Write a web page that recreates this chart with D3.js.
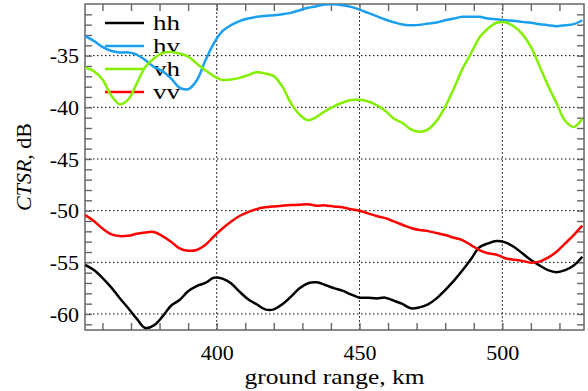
<!DOCTYPE html>
<html>
<head>
<meta charset="utf-8">
<script src="https://cdn.jsdelivr.net/npm/d3@7"></script>
<style>
  html, body { margin: 0; padding: 0; background: #fff; }
  svg { display: block; }
  text { font-family: "Liberation Serif", "Times New Roman", serif; fill: #000; }
</style>
</head>
<body>
<svg id="chart" width="588" height="391"></svg>
<script>
// ---- data ----
const rangeKm = [354,357,360,363,366,369,372,375,378,381,384,387,390,393,396,399,402,405,408,411,414,417,420,423,426,429,432,435,438,441,444,447,450,453,456,459,462,465,468,471,474,477,480,483,486,489,492,495,498,501,504,507,510,513,516,519,522,525,528];
const hh = [-55.25,-55.75,-56.5,-57.4,-58.45,-59.42,-60.45,-61.35,-61.1,-60.26,-59.2,-58.65,-57.8,-57.3,-57.0,-56.5,-56.58,-57.03,-57.84,-58.58,-59.06,-59.55,-59.55,-59.06,-58.32,-57.52,-57.03,-56.94,-57.19,-57.5,-57.74,-58.1,-58.42,-58.42,-58.49,-58.42,-58.71,-59.03,-59.45,-59.36,-59.06,-58.49,-57.68,-56.8,-55.8,-54.7,-53.55,-53.17,-52.94,-53.07,-53.49,-54.13,-54.78,-55.3,-55.75,-55.95,-55.75,-55.3,-54.46];
const hv = [-33.11,-33.57,-34.15,-34.53,-34.69,-34.69,-34.89,-35.43,-36.08,-36.5,-37.2,-38.1,-38.25,-37.4,-35.5,-33.8,-32.63,-32.05,-31.66,-31.41,-31.24,-31.15,-31.08,-30.99,-30.86,-30.6,-30.37,-30.21,-30.05,-30.03,-30.12,-30.28,-30.54,-30.86,-31.18,-31.5,-31.76,-31.99,-32.05,-32.02,-31.89,-31.79,-31.57,-31.41,-31.24,-31.24,-31.24,-31.41,-31.47,-31.57,-31.63,-31.73,-31.82,-31.95,-32.05,-32.15,-32.05,-31.95,-31.57];
const vh = [-36.14,-36.5,-37.3,-38.8,-39.7,-39.25,-37.7,-36.1,-35.27,-34.75,-34.65,-34.79,-35.1,-35.75,-36.4,-36.98,-37.35,-37.3,-37.15,-36.89,-36.6,-36.73,-36.98,-38.0,-39.6,-40.7,-41.25,-40.92,-40.37,-39.9,-39.56,-39.3,-39.27,-39.43,-39.79,-40.34,-41.08,-41.5,-42.14,-42.37,-42.14,-41.31,-39.95,-38.2,-36.3,-34.8,-33.25,-32.37,-31.82,-31.76,-32.15,-32.92,-34.15,-36.0,-37.9,-39.6,-41.3,-41.9,-41.1];
const vv = [-50.43,-51.0,-51.72,-52.27,-52.46,-52.43,-52.24,-52.11,-52.07,-52.46,-53.0,-53.65,-53.88,-53.81,-53.33,-52.5,-51.72,-51.07,-50.52,-50.14,-49.85,-49.68,-49.59,-49.52,-49.46,-49.43,-49.39,-49.52,-49.49,-49.6,-49.68,-49.85,-50.01,-50.26,-50.52,-50.72,-51.04,-51.36,-51.68,-51.88,-51.98,-52.17,-52.36,-52.62,-52.85,-53.33,-53.81,-54.13,-54.26,-54.61,-54.74,-54.86,-55.03,-54.93,-54.55,-53.97,-53.17,-52.36,-51.45];
const seriesNames = ["hh","hv","vh","vv"];
const seriesColors = ["#000000","#1a9ff0","#84f000","#ff0000"];
const xTickValues = [400,450,500];
const yTickValues = [-35,-40,-45,-50,-55,-60];
const xLabel = "ground range, km";
const yLabelItalic = "CTSR";
const yLabelRest = ", dB";

// ---- layout ----
const svg = d3.select("#chart");
const L = 85, R = 584, T = 4, B = 330;
const x = d3.scaleLinear().domain([353.9, 528.6]).range([L, R]);
const y = d3.scaleLinear().domain([-61.55, -30.0]).range([B, T]);
const FONT = '"Liberation Serif", "Times New Roman", serif';

svg.append("defs").append("clipPath").attr("id","clip")
  .append("rect").attr("x", L).attr("y", T).attr("width", R-L).attr("height", B-T);

// grid
const grid = svg.append("g");
grid.selectAll(".gx").data(xTickValues).enter().append("line")
  .attr("x1", d => x(d)).attr("x2", d => x(d)).attr("y1", T).attr("y2", B)
  .attr("stroke", "#333").attr("stroke-width", 1).attr("stroke-dasharray", "2,2");
grid.selectAll(".gy").data(yTickValues).enter().append("line")
  .attr("x1", L).attr("x2", R).attr("y1", d => y(d)).attr("y2", d => y(d))
  .attr("stroke", "#000").attr("stroke-width", 1).attr("stroke-dasharray", "1.5,2.5");

// minor/major ticks on all four sides
const xMinor = d3.range(360, 529, 10);
const yMinor = d3.range(-61, -30, 1);
const tickCol = "#666";
function styleAxis(g) {
  g.select(".domain").remove();
  g.selectAll(".tick line").attr("stroke", tickCol).attr("stroke-width", 1.4);
}
svg.append("g").attr("transform", `translate(0,${B})`)
  .call(d3.axisBottom(x).tickValues(xMinor).tickSize(-7).tickFormat("")).call(styleAxis);
svg.append("g").attr("transform", `translate(0,${T})`)
  .call(d3.axisTop(x).tickValues(xMinor).tickSize(-7).tickFormat("")).call(styleAxis);
svg.append("g").attr("transform", `translate(${L},0)`)
  .call(d3.axisLeft(y).tickValues(yMinor).tickSize(-7).tickFormat("")).call(styleAxis);
svg.append("g").attr("transform", `translate(${R},0)`)
  .call(d3.axisRight(y).tickValues(yMinor).tickSize(-7).tickFormat("")).call(styleAxis);

// tick labels
const xAx = svg.append("g").attr("transform", `translate(0,${B})`)
  .call(d3.axisBottom(x).tickValues(xTickValues).tickSize(0).tickFormat(d3.format("d")));
xAx.attr("font-family", FONT).attr("font-size", 22);
xAx.select(".domain").remove();
xAx.selectAll("text").attr("y", 30).attr("dy", "0").attr("fill", "#000");

const yAx = svg.append("g").attr("transform", `translate(${L},0)`)
  .call(d3.axisLeft(y).tickValues(yTickValues).tickSize(0).tickPadding(6).tickFormat(d => String(d)));
yAx.attr("font-family", FONT).attr("font-size", 22);
yAx.select(".domain").remove();
yAx.selectAll("text").attr("fill", "#000");

// frame
svg.append("rect").attr("x", L).attr("y", T).attr("width", R-L).attr("height", B-T)
  .attr("fill", "none").attr("stroke", tickCol).attr("stroke-width", 1.5);

// axis titles
svg.append("text").attr("x", (L+R)/2).attr("y", 384).attr("text-anchor", "middle")
  .style("font-size", "22px").attr("textLength", 180).attr("lengthAdjust", "spacingAndGlyphs")
  .text(xLabel);
const yt = svg.append("text").attr("transform", `translate(31,${(T+B)/2}) rotate(-90)`)
  .attr("text-anchor", "middle").style("font-size", "22px");
yt.append("tspan").style("font-style", "italic").text(yLabelItalic);
yt.append("tspan").text(yLabelRest);

// legend
const leg = svg.append("g");
seriesNames.forEach((n, i) => {
  const ly = 23 + i * 23;
  leg.append("line").attr("x1", 105).attr("x2", 144).attr("y1", ly).attr("y2", ly)
    .attr("stroke", seriesColors[i]).attr("stroke-width", 2.5);
  leg.append("text").attr("x", 153).attr("y", ly + 7).style("font-size", "22px")
    .attr("textLength", 27).attr("lengthAdjust", "spacingAndGlyphs").text(n);
});

// lines
const seriesData = [hh, hv, vh, vv];
const line = d3.line().x(d => x(d[0])).y(d => y(d[1])).curve(d3.curveCatmullRom.alpha(0.5));
const lines = svg.append("g").attr("clip-path", "url(#clip)");
seriesData.forEach((vals, i) => {
  lines.append("path").datum(rangeKm.map((k, j) => [k, vals[j]]))
    .attr("fill", "none").attr("stroke", seriesColors[i]).attr("stroke-width", 2.5)
    .attr("stroke-linejoin", "round").attr("d", line);
});
</script>
</body>
</html>
